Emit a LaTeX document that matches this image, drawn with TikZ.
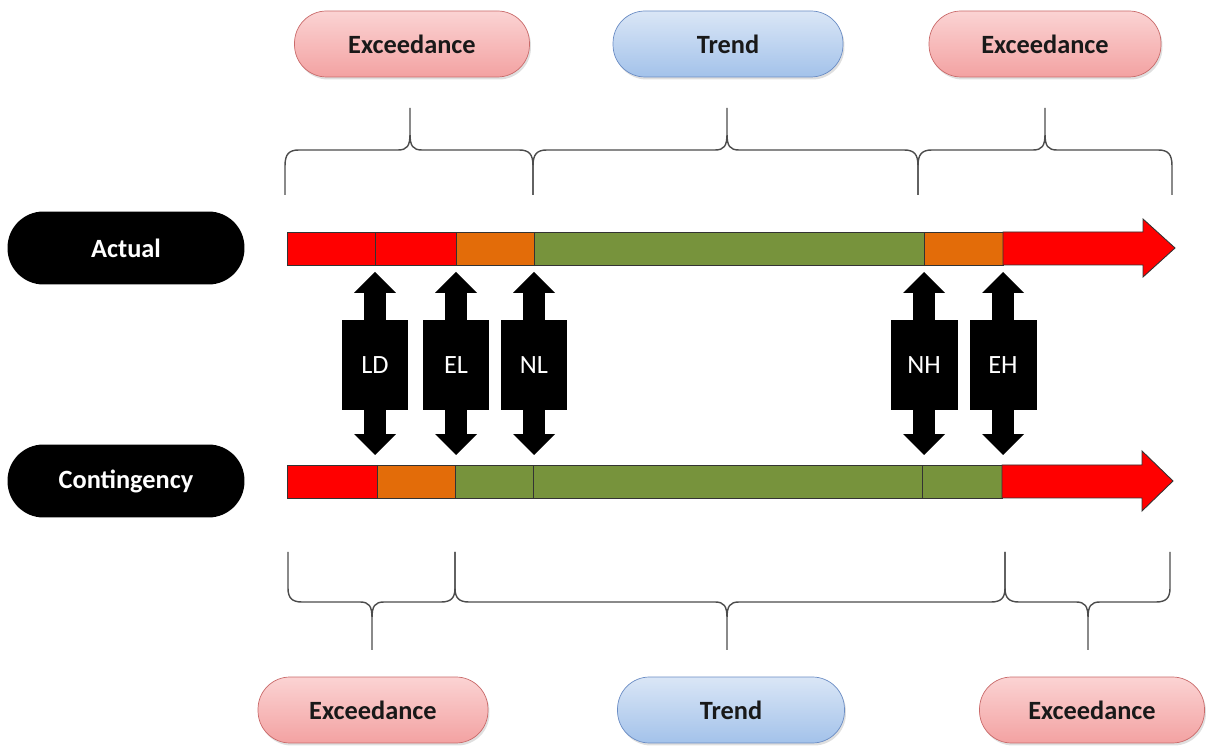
\documentclass[tikz,border=0pt]{standalone}
\usepackage{fontspec}
\setmainfont{Carlito}
\usetikzlibrary{arrows.meta, positioning, calc, fit, shadows}

\definecolor{barred}{HTML}{FF0000}
\definecolor{barorange}{HTML}{E36C09}
\definecolor{bargreen}{HTML}{77933C}
\definecolor{pinktop}{HTML}{FBD3D3}
\definecolor{pinkbot}{HTML}{F3A2A2}
\definecolor{pinkline}{HTML}{C96A6A}
\definecolor{bluetop}{HTML}{DAE6F6}
\definecolor{bluebot}{HTML}{A3C2EA}
\definecolor{blueline}{HTML}{6A8CC4}

\begin{document}
\begin{tikzpicture}[
    x=0.02cm, y=-0.02cm,
    pill/.style={rounded corners=0.64cm, minimum height=1.32cm,
        font=\fontsize{15}{18}\selectfont\bfseries, text=black!90,
        drop shadow={opacity=0.25, shadow xshift=0.03cm, shadow yshift=-0.05cm}},
    pillred/.style={pill, draw=pinkline, top color=pinktop, bottom color=pinkbot},
    pillblue/.style={pill, draw=blueline, top color=bluetop, bottom color=bluebot},
    tag/.style={fill=black, rounded corners=0.72cm, minimum width=4.74cm,
        minimum height=1.46cm, text=white, font=\fontsize{15}{18}\selectfont\bfseries},
    seg/.style={draw=black!80, line width=0.5pt, inner sep=0pt, outer sep=0pt},
    headarr/.style={draw=black!80, line width=0.5pt, fill=barred, line join=miter},
    valbox/.style={fill=black, minimum width=1.34cm, minimum height=1.8cm,
        inner sep=0pt, text=white, font=\fontsize{15}{18}\selectfont},
    dbl/.style={line width=0.44cm,
        {Triangle[length=0.42cm, width=0.84cm, line width=0pt]}-{Triangle[length=0.42cm, width=0.84cm, line width=0pt]},
        shorten <=0.14cm, shorten >=0.2cm},
    brc/.style={draw=black!70, line width=0.8pt},
]
\useasboundingbox (0,0) rectangle (1211,749);

% ---- row labels ----
\node[tag] (actual) at (126,248) {Actual};
\node[tag] (conting) at (126,481) {Contingency};

% ---- Actual bar ----
\foreach \n/\l/\r/\c in {a1/287/375/barred, a2/375/456/barred,
    a3/456/534/barorange, a4/534/924/bargreen, a5/924/1003/barorange}
    \node[seg, fill=\c, fit={(\l,232) (\r,265)}] (\n) {};
\draw[headarr] (a5.north east) -- (1143,232) -- (1143,219) -- (1175,248)
    -- (1143,277) -- (1143,265) -- (a5.south east) -- cycle;

% ---- Contingency bar ----
\foreach \n/\l/\r/\c in {c1/287/377/barred, c2/377/455/barorange,
    c3/455/533/bargreen, c4/533/922/bargreen, c5/922/1002/bargreen}
    \node[seg, fill=\c, fit={(\l,465) (\r,498)}] (\n) {};
\draw[headarr] (c5.north east) -- (1142,465) -- (1142,451) -- (1173,481)
    -- (1142,511) -- (1142,498) -- (c5.south east) -- cycle;

% ---- limit arrows between the bars ----
\foreach \s/\lbl/\nm in {a1/LD/ld, a2/EL/el, a3/NL/nl, a4/NH/nh, a5/EH/eh} {
    \draw[dbl] (\s.south east) -- (\s.south east |- c1.north);
    \node[valbox] (\nm) at ($(\s.south east)!0.5!(\s.south east |- c1.north)$) {\lbl};
}

% ---- top braces ----
\foreach \l/\m/\r in {285/410/533, 533/727/918, 918/1045/1172}
    \draw[brc] (\l,195) -- (\l,166) .. controls (\l,154) and (\l+4,150) .. (\l+14,150)
        -- (\m-12,150) .. controls (\m-3,150) and (\m,146) .. (\m,134) -- (\m,108)
        (\m,134) .. controls (\m,146) and (\m+3,150) .. (\m+12,150)
        -- (\r-14,150) .. controls (\r-4,150) and (\r,154) .. (\r,166) -- (\r,195);

% ---- bottom braces ----
\foreach \l/\m/\r in {288/372/455, 455/727/1005, 1005/1088/1170}
    \draw[brc] (\l,552) -- (\l,588) .. controls (\l,598) and (\l+4,602) .. (\l+14,602)
        -- (\m-12,602) .. controls (\m-3,602) and (\m,606) .. (\m,618) -- (\m,650)
        (\m,618) .. controls (\m,606) and (\m+3,602) .. (\m+12,602)
        -- (\r-14,602) .. controls (\r-4,602) and (\r,598) .. (\r,588) -- (\r,552);

% ---- top categories ----
\node[pillred, minimum width=4.7cm] (exctl) at (412,44) {Exceedance};
\node[pillblue, minimum width=4.6cm] (trendt) at (728,44) {Trend};
\node[pillred, minimum width=4.64cm] (exctr) at (1045,44) {Exceedance};

% ---- bottom categories ----
\node[pillred, minimum width=4.6cm] (excbl) at (373,710) {Exceedance};
\node[pillblue, minimum width=4.54cm] (trendb) at (731,710) {Trend};
\node[pillred, minimum width=4.5cm] (excbr) at (1092,710) {Exceedance};

\end{tikzpicture}
\end{document}
